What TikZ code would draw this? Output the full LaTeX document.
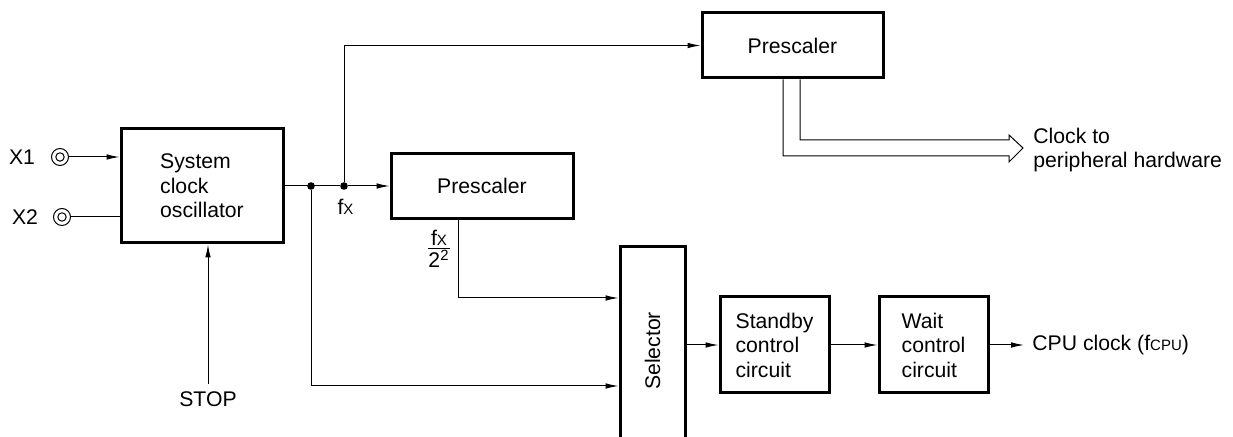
\documentclass[tikz,border=0pt]{standalone}
\usepackage{fontspec}
\setmainfont{Liberation Sans}
\usepackage{graphicx}
\usetikzlibrary{arrows.meta,calc}
\newcommand\dgfont{\fontsize{10.6pt}{12.25pt}\selectfont}
\newcommand\smallx{{\fontsize{7.5pt}{8pt}\selectfont X}}
\begin{document}
\begin{tikzpicture}[x=0.5pt,y=-0.5pt,
  every node/.style={font=\dgfont},
  blk/.style={draw, line width=1.5pt, inner sep=0pt, align=left},
  wire/.style={line width=0.5pt},
  arr/.style={wire, -{Latex[length=6.5pt,width=2.8pt]}},
  dotn/.style={circle, fill, inner sep=0pt, minimum size=3.8pt},
  term/.style={circle, draw, line width=0.5pt, inner sep=0pt, minimum size=8.5pt,
    path picture={\draw[line width=0.5pt] (path picture bounding box.center) circle (2.1pt);}}]
\useasboundingbox (0,0) rectangle (1233,437);
\clip (0,0) rectangle (1233,437);

% blocks
\node[blk, minimum width=81pt, minimum height=57pt] (sys) at (202,186) {System\\clock\\oscillator};
\node[blk, minimum width=90.5pt, minimum height=32.5pt] (pre1) at (792.5,45.5) {Prescaler};
\node[blk, minimum width=91pt, minimum height=32.5pt] (pre2) at (482,186) {Prescaler};
\node[blk, minimum width=32.5pt, minimum height=104pt] (sel) at (652.5,351) {\rotatebox{90}{Selector}};
\node[blk, minimum width=54.5pt, minimum height=48pt] (stby) at (774.5,345) {Standby\\control\\circuit};
\node[blk, minimum width=54.5pt, minimum height=48pt] (wait) at (933.5,345) {Wait\\control\\circuit};

% labels and terminals
\node (x1) at (22,157) {X1};
\node (x2) at (25,217) {X2};
\node[term] (t1) at (60,157) {};
\node[term] (t2) at (62,217) {};
\node[dotn] (d1) at (311,186) {};
\node[dotn] (d2) at (344,186) {};
\node[anchor=base] (fx) at (345.5,215) {f\smallx};
\node (fx4) at (439,249) {$\frac{\hbox{f\smallx}}{\hbox{2\textsuperscript{2}}}$};
\node (stop) at (208,399) {STOP};
\coordinate (clk) at (1023,148);
\node[anchor=west, align=left, inner sep=0pt] (clktxt) at (1033,150) {Clock to\\peripheral hardware};
\node[anchor=west, inner xsep=4pt, inner ysep=0pt] (cpu) at (1024,345) {CPU clock (f{\fontsize{7.5pt}{8pt}\selectfont CPU})};

% connectors
\draw[arr] (t1) -- (sys.west |- t1);
\draw[wire] (t2) -- (sys.west |- t2);
\draw[wire] (sys.east) -- (d2);
\draw[arr] (d2) -- (pre2.west);
\draw[arr] (d2) |- (pre1.west);
\draw[arr] (d1) |- ($(sel.west)+(0,35)$);
\draw[arr] ($(pre2.south)+(-24,0)$) |- ($(sel.west)+(0,-53)$);
\draw[arr] (stop) -- (stop |- sys.south);
\draw[arr] (sel.east |- stby.west) -- (stby.west);
\draw[arr] (stby) -- (wait);
\draw[arr] (wait) -- (cpu);
\draw[wire, line join=miter] ($(pre1.south)+(-9.5,0)$) |- ($(clk)+(-14,8)$) -- ($(clk)+(-14,14)$) -- (clk)
  -- ($(clk)+(-14,-13)$) -- ($(clk)+(-14,-8)$) -| ($(pre1.south)+(7.5,0)$);
\end{tikzpicture}
\end{document}
